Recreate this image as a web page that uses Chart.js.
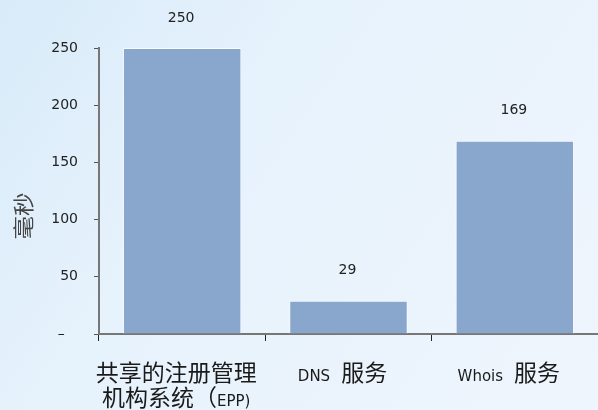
<!DOCTYPE html>
<html>
<head>
<meta charset="utf-8">
<script src="https://cdn.jsdelivr.net/npm/chart.js@4/dist/chart.umd.min.js"></script>
<style>
html,body{margin:0;padding:0;background:#e8f3fc;}
#wrap{width:598px;height:410px;position:relative;}
</style>
</head>
<body>
<div id="wrap"><canvas id="c"></canvas></div>
<script>
const categories = [['共享的注册管理', '机构系统（EPP)'], 'DNS 服务', 'Whois 服务'];
const values = [250, 29, 169];
const yTicks = [0, 50, 100, 150, 200, 250];
const yTitle = '毫秒';

const CJK_FONT = '"Noto Sans CJK SC", sans-serif';
const LAT_FONT = '"DejaVu Sans", sans-serif';

const bgPlugin = {
  id: 'bg',
  beforeDraw(chart) {
    const ctx = chart.ctx;
    const g = ctx.createLinearGradient(0, 0, chart.width, chart.height);
    g.addColorStop(0, '#d8ebf9');
    g.addColorStop(0.35, '#e6f2fc');
    g.addColorStop(1, '#eff5fd');
    ctx.save();
    ctx.fillStyle = g;
    ctx.fillRect(0, 0, chart.width, chart.height);
    ctx.restore();
  }
};

function isCJK(ch) {
  return /[\u3000-\u303f\u4e00-\u9fff\uff00-\uffef]/.test(ch);
}
function splitRuns(line) {
  const runs = [];
  for (const ch of line) {
    const type = ch === ' ' ? 'sp' : (isCJK(ch) ? 'cjk' : 'lat');
    const last = runs[runs.length - 1];
    if (last && last.type === type) last.t += ch; else runs.push({t: ch, type});
  }
  return runs;
}
function drawRunLine(ctx, line, cx, baseY) {
  const runs = splitRuns(line);
  const fonts = {cjk: '23px ' + CJK_FONT, lat: '15px ' + LAT_FONT};
  let total = 0;
  runs.forEach(r => {
    if (r.type === 'sp') { r.w = 11 * r.t.length; }
    else { ctx.font = fonts[r.type]; r.w = ctx.measureText(r.t).width; }
    total += r.w;
  });
  let x = cx - total / 2;
  ctx.textAlign = 'left';
  ctx.textBaseline = 'alphabetic';
  runs.forEach(r => {
    if (r.type !== 'sp') { ctx.font = fonts[r.type]; ctx.fillText(r.t, x, baseY); }
    x += r.w;
  });
}

const labelPlugin = {
  id: 'labels',
  afterDraw(chart) {
    const ctx = chart.ctx;
    const xs = chart.scales.x;
    const meta = chart.getDatasetMeta(0);
    ctx.save();
    ctx.fillStyle = '#1a1a1a';
    categories.forEach((cat, i) => {
      const lines = Array.isArray(cat) ? cat : [cat];
      const cx = xs.getPixelForValue(i) - 6;
      lines.forEach((ln, j) => drawRunLine(ctx, ln, cx, 381 + j * 25));
    });
    ctx.font = '14px ' + LAT_FONT;
    ctx.textAlign = 'center';
    ctx.textBaseline = 'middle';
    ctx.fillStyle = '#222';
    meta.data.forEach((bar, i) => {
      ctx.fillText(String(values[i]), bar.x - 1, bar.y - 30);
    });
    ctx.translate(23, 216);
    ctx.rotate(-Math.PI / 2);
    ctx.scale(1.12, 1);
    ctx.font = '21px ' + CJK_FONT;
    ctx.fillStyle = '#444';
    ctx.fillText(yTitle, 0, 0);
    ctx.restore();
  }
};

new Chart(document.getElementById('c'), {
  type: 'bar',
  data: {
    labels: categories,
    datasets: [{
      data: values,
      backgroundColor: '#89a6cc',
      borderColor: 'rgba(255,255,255,0.7)',
      borderWidth: 1,
      categoryPercentage: 1,
      barPercentage: 0.712
    }]
  },
  options: {
    responsive: true,
    maintainAspectRatio: false,
    animation: false,
    layout: {padding: {top: 48, right: 0, left: 0, bottom: 0}},
    plugins: {legend: {display: false}, tooltip: {enabled: false}},
    scales: {
      x: {
        ticks: {display: false},
        grid: {drawOnChartArea: false, drawTicks: true, tickLength: 7, color: '#222', lineWidth: 1, offset: true},
        border: {display: true, color: '#777', width: 2},
        afterFit(s) { s.height = 76; }
      },
      y: {
        min: 0, max: 250,
        afterBuildTicks(s) { s.ticks = yTicks.map(v => ({value: v})); },
        ticks: {
          padding: 16,
          color: '#222',
          font: {family: 'DejaVu Sans', size: 14},
          callback: v => v === 0 ? '–   ' : String(v)
        },
        grid: {drawOnChartArea: false, drawTicks: true, tickLength: 5, color: '#555', lineWidth: 1},
        border: {display: true, color: '#777', width: 2},
        afterFit(s) { s.width = 99; }
      }
    }
  },
  plugins: [bgPlugin, labelPlugin]
});
</script>
</body>
</html>
